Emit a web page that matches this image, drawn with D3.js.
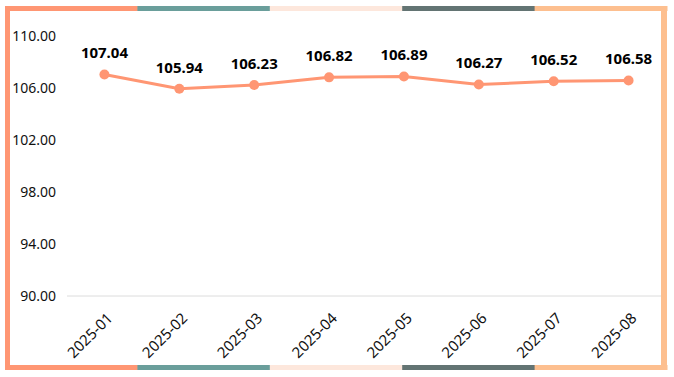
<!DOCTYPE html>
<html>
<head>
<meta charset="utf-8">
<script src="https://cdn.jsdelivr.net/npm/d3@7/dist/d3.min.js"></script>
<style>
  html, body { margin: 0; padding: 0; background: #fff; }
  #chart-container { width: 674px; height: 377px; }
  text { font-family: "Noto Sans", "Open Sans", sans-serif; }
</style>
</head>
<body>
<div id="chart-container"></div>
<script>
const months = ["2025-01", "2025-02", "2025-03", "2025-04", "2025-05", "2025-06", "2025-07", "2025-08"];
const values = [107.04, 105.94, 106.23, 106.82, 106.89, 106.27, 106.52, 106.58];
const yTicks = [90, 94, 98, 102, 106, 110];
const frameColors = ["#ff9673", "#6a9e9b", "#fde7dc", "#637473", "#fdbf8f"];

const chartContainer = document.getElementById("chart-container");
const width = 674;
const height = 377;
const margin = { top: 36, right: 8, bottom: 81, left: 67 };
const graphWidth = width - margin.left - margin.right;
const graphHeight = height - margin.top - margin.bottom;

const svg = d3
  .select(chartContainer)
  .append("svg")
  .attr("width", width)
  .attr("height", height);

const graph = svg
  .append("g")
  .attr("transform", `translate(${margin.left}, ${margin.top})`);

const x = d3.scaleBand().domain(months).range([0, graphWidth]);
const y = d3.scaleLinear().domain([90, 110]).range([graphHeight, 0]);

// baseline
graph
  .append("line")
  .attr("x1", 0)
  .attr("x2", graphWidth)
  .attr("y1", y(90))
  .attr("y2", y(90))
  .attr("stroke", "#dcdcdc")
  .attr("stroke-width", 1);

// y axis
const gYAxis = graph.append("g").call(
  d3.axisLeft(y).tickValues(yTicks).tickFormat((d) => d.toFixed(2)).tickSize(0).tickPadding(11)
);
gYAxis.select(".domain").remove();
gYAxis.selectAll("text").style("font-size", "14px").attr("fill", "#111");

// x axis
const gXAxis = graph
  .append("g")
  .attr("transform", `translate(0, ${graphHeight})`)
  .call(d3.axisBottom(x).tickSize(0));
gXAxis.select(".domain").remove();
gXAxis
  .selectAll("text")
  .style("font-size", "15px")
  .attr("fill", "#111")
  .attr("text-anchor", "end")
  .attr("dy", 0)
  .attr("transform", "translate(7, 21) rotate(-45)");

const cx = (d, i) => x(months[i]) + x.bandwidth() / 2;

const line = d3
  .line()
  .x((d, i) => cx(d, i))
  .y((d) => y(d));

graph
  .append("path")
  .datum(values)
  .attr("fill", "none")
  .attr("stroke", "#ff9673")
  .attr("stroke-width", 3)
  .attr("d", line);

graph
  .selectAll("circle")
  .data(values)
  .enter()
  .append("circle")
  .attr("cx", cx)
  .attr("cy", (d) => y(d))
  .attr("r", 5)
  .attr("fill", "#ff9673");

graph
  .selectAll(".val")
  .data(values)
  .enter()
  .append("text")
  .attr("class", "val")
  .attr("x", cx)
  .attr("y", (d) => y(d) - 16)
  .attr("text-anchor", "middle")
  .style("font-size", "15px")
  .style("font-weight", "bold")
  .attr("fill", "#000")
  .text((d) => d.toFixed(2));

// coloured frame
const fx0 = 5, fx1 = 667, fy0 = 6, fy1 = 370, bw = 5;
const seg = d3.scaleBand().domain(d3.range(frameColors.length)).range([fx0, fx1]);
svg
  .selectAll(".topseg")
  .data(frameColors)
  .enter()
  .append("rect")
  .attr("x", (d, i) => seg(i))
  .attr("y", fy0)
  .attr("width", seg.bandwidth() + 0.5)
  .attr("height", bw)
  .attr("fill", (d) => d);
svg
  .selectAll(".botseg")
  .data(frameColors)
  .enter()
  .append("rect")
  .attr("x", (d, i) => seg(i))
  .attr("y", fy1 - bw)
  .attr("width", seg.bandwidth() + 0.5)
  .attr("height", bw)
  .attr("fill", (d) => d);
svg
  .append("rect")
  .attr("x", fx0)
  .attr("y", fy0)
  .attr("width", bw)
  .attr("height", fy1 - fy0)
  .attr("fill", frameColors[0]);
svg
  .append("rect")
  .attr("x", fx1 - bw - 1)
  .attr("y", fy0)
  .attr("width", bw + 1)
  .attr("height", fy1 - fy0)
  .attr("fill", frameColors[4]);
</script>
</body>
</html>
